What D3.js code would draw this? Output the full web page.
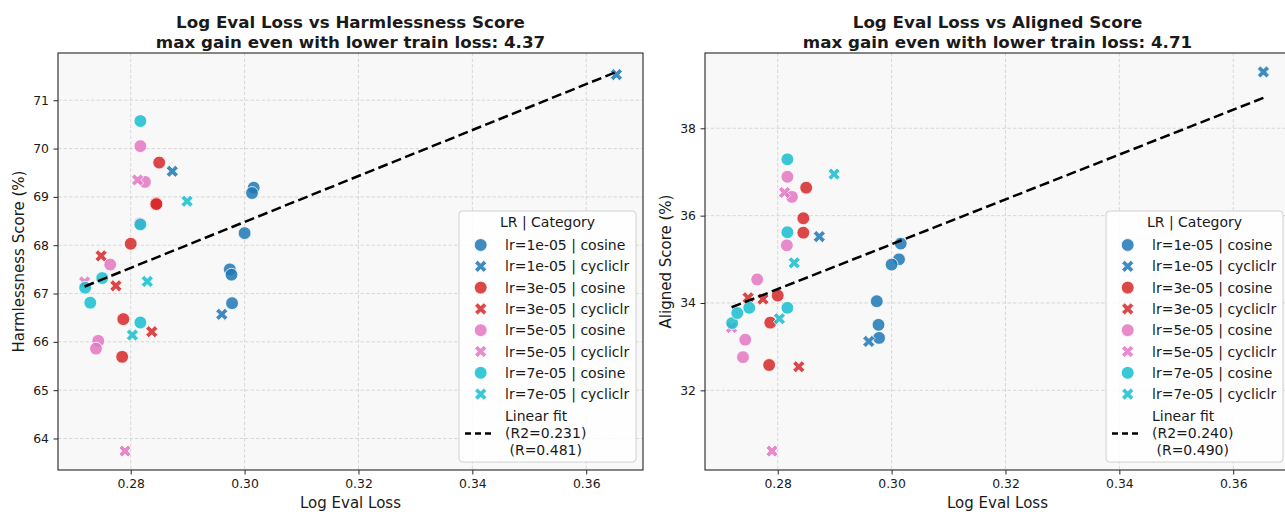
<!DOCTYPE html>
<html>
<head>
<meta charset="utf-8">
<script src="https://cdn.jsdelivr.net/npm/d3@7/dist/d3.min.js"></script>
<style>
  body { margin: 0; background: #ffffff; }
  svg text { font-family: "DejaVu Sans", sans-serif; fill: #1a1a1a; }
</style>
</head>
<body>
<svg id="chart" width="1285" height="512"></svg>
<script>
// ---- data: one entry per training run ----
const runLr = [
  "1e-05","1e-05","1e-05","1e-05","1e-05","1e-05",
  "1e-05","1e-05","1e-05",
  "3e-05","3e-05","3e-05","3e-05","3e-05","3e-05",
  "3e-05","3e-05","3e-05",
  "5e-05","5e-05","5e-05","5e-05","5e-05","5e-05",
  "5e-05","5e-05","5e-05",
  "7e-05","7e-05","7e-05","7e-05","7e-05","7e-05",
  "7e-05","7e-05","7e-05"
];
const runScheduler = [
  "cosine","cosine","cosine","cosine","cosine","cosine",
  "cycliclr","cycliclr","cycliclr",
  "cosine","cosine","cosine","cosine","cosine","cosine",
  "cycliclr","cycliclr","cycliclr",
  "cosine","cosine","cosine","cosine","cosine","cosine",
  "cycliclr","cycliclr","cycliclr",
  "cosine","cosine","cosine","cosine","cosine","cosine",
  "cycliclr","cycliclr","cycliclr"
];
const logEvalLoss = [
  0.3016, 0.3013, 0.3000, 0.2974, 0.2977, 0.2978,
  0.2873, 0.2960, 0.3653,
  0.2850, 0.2845, 0.2845, 0.2800, 0.2787, 0.2785,
  0.2748, 0.2774, 0.2837,
  0.2817, 0.2825, 0.2816, 0.2764, 0.2743, 0.2739,
  0.2812, 0.2719, 0.2790,
  0.2817, 0.2817, 0.2817, 0.2750, 0.2720, 0.2729,
  0.2899, 0.2829, 0.2803
];
const harmlessnessScore = [
  69.19, 69.08, 68.25, 67.50, 67.39, 66.80,
  69.53, 66.57, 71.53,
  69.71, 68.87, 68.85, 68.03, 66.47, 65.69,
  67.78, 67.16, 66.21,
  70.05, 69.31, 68.45, 67.60, 66.02, 65.86,
  69.35, 67.24, 63.74,
  70.57, 68.43, 66.40, 67.32, 67.12, 66.81,
  68.91, 67.25, 66.14
];
const alignedScore = [
  35.36, 35.00, 34.88, 34.04, 33.50, 33.20,
  35.52, 33.12, 39.29,
  36.64, 35.94, 35.61, 34.17, 33.55, 32.58,
  34.12, 34.09, 32.54,
  36.89, 36.43, 35.32, 34.54, 33.16, 32.76,
  36.53, 33.44, 30.61,
  37.29, 35.62, 33.89, 33.89, 33.54, 33.77,
  36.95, 34.92, 33.64
];

// legend categories and palette
const learningRates = ["1e-05", "3e-05", "5e-05", "7e-05"];
const schedulers = ["cosine", "cycliclr"];
const lrColors = ["#1f77b4", "#d62728", "#e377c2", "#17becf"];

// tick values
const lossTicks = [0.28, 0.30, 0.32, 0.34, 0.36];
const harmlessTicks = [64, 65, 66, 67, 68, 69, 70, 71];
const alignedTicks = [32, 34, 36, 38];

// fit statistics printed in titles / legends
const panelTitles = ["Log Eval Loss vs Harmlessness Score", "Log Eval Loss vs Aligned Score"];
const panelYLabels = ["Harmlessness Score (%)", "Aligned Score (%)"];
const maxGain = ["4.37", "4.71"];
const fitR2 = ["0.231", "0.240"];
const fitR = ["0.481", "0.490"];

// ---- drawing ----
const svg = d3.select("#chart");
const plotTop = 53, plotBottom = 470;
const panelLeft = [58, 705];
const panelWidth = 585;
const markerSize = 12.8;

const color = d3.scaleOrdinal().domain(learningRates).range(lrColors);

function xMarkerPath(s) {
  const k = s / 4;
  const pts = [[-1,-2],[0,-1],[1,-2],[2,-1],[1,0],[2,1],[1,2],[0,1],[-1,2],[-2,1],[-1,0],[-2,-1]];
  return "M" + pts.map(([a, b]) => `${a * k},${b * k}`).join("L") + "Z";
}

function drawMarker(sel, scheduler, fill) {
  if (scheduler === "cosine") {
    sel.append("circle").attr("r", markerSize / 2);
  } else {
    sel.append("path").attr("d", xMarkerPath(markerSize * 0.95));
  }
  sel.selectAll("circle,path")
    .attr("fill", fill)
    .attr("fill-opacity", 0.85)
    .attr("stroke", "#ffffff")
    .attr("stroke-width", 0.8);
}

// 5% autoscale margin on each side
function padded(ext) {
  const m = (ext[1] - ext[0]) * 0.05;
  return [ext[0] - m, ext[1] + m];
}

function linearFit(xs, ys) {
  const mx = d3.mean(xs), my = d3.mean(ys);
  let sxy = 0, sxx = 0;
  xs.forEach((xv, i) => { sxy += (xv - mx) * (ys[i] - my); sxx += (xv - mx) ** 2; });
  const slope = sxy / sxx;
  return { slope, intercept: my - slope * mx };
}

const panelValues = [harmlessnessScore, alignedScore];
const panelTicks = [harmlessTicks, alignedTicks];

panelValues.forEach((values, pi) => {
  const left = panelLeft[pi], right = left + panelWidth;
  const g = svg.append("g");

  // least-squares fit across all runs
  const fit = linearFit(logEvalLoss, values);
  const [xmin, xmax] = d3.extent(logEvalLoss);
  const fitY = [fit.intercept + fit.slope * xmin, fit.intercept + fit.slope * xmax];

  const x = d3.scaleLinear().domain(padded([xmin, xmax])).range([left, right]);
  const y = d3.scaleLinear().domain(padded(d3.extent(values.concat(fitY))))
    .range([plotBottom, plotTop]);

  // plotting area background
  g.append("rect")
    .attr("x", left).attr("y", plotTop)
    .attr("width", right - left).attr("height", plotBottom - plotTop)
    .attr("fill", "#f8f8f8");

  // dashed grid
  const grid = g.append("g").attr("stroke", "#d4d4d4").attr("stroke-width", 0.9)
    .attr("stroke-dasharray", "3.5,2");
  grid.selectAll("line.gx").data(lossTicks).join("line")
    .attr("x1", d => x(d)).attr("x2", d => x(d))
    .attr("y1", plotTop).attr("y2", plotBottom);
  grid.selectAll("line.gy").data(panelTicks[pi]).join("line")
    .attr("x1", left).attr("x2", right)
    .attr("y1", d => y(d)).attr("y2", d => y(d));

  // scatter points, grouped by learning rate and scheduler
  const pts = g.append("g");
  learningRates.forEach(lr => {
    schedulers.forEach(sch => {
      logEvalLoss.forEach((lv, i) => {
        if (runLr[i] !== lr || runScheduler[i] !== sch) return;
        const m = pts.append("g").attr("transform", `translate(${x(lv)},${y(values[i])})`);
        drawMarker(m, sch, color(lr));
      });
    });
  });

  // fit line
  g.append("line")
    .attr("x1", x(xmin)).attr("y1", y(fitY[0]))
    .attr("x2", x(xmax)).attr("y2", y(fitY[1]))
    .attr("stroke", "#000").attr("stroke-width", 2.5)
    .attr("stroke-dasharray", "10,4.4");

  // frame
  g.append("rect")
    .attr("x", left).attr("y", plotTop)
    .attr("width", right - left).attr("height", plotBottom - plotTop)
    .attr("fill", "none").attr("stroke", "#262626").attr("stroke-width", 1.1);

  // axes
  const xAxis = g.append("g").attr("transform", `translate(0,${plotBottom})`)
    .call(d3.axisBottom(x).tickValues(lossTicks).tickFormat(d3.format(".2f"))
      .tickSize(4.5).tickPadding(5));
  const yAxis = g.append("g").attr("transform", `translate(${left},0)`)
    .call(d3.axisLeft(y).tickValues(panelTicks[pi]).tickFormat(d3.format("d"))
      .tickSize(4.5).tickPadding(4.5));
  [xAxis, yAxis].forEach(a => {
    a.select(".domain").remove();
    a.selectAll(".tick line").attr("stroke", "#262626").attr("stroke-width", 1);
    a.selectAll(".tick text").attr("font-size", 12.4).attr("fill", "#1a1a1a")
      .style("font-family", "DejaVu Sans, sans-serif");
  });

  // axis labels
  const cx = (left + right) / 2;
  g.append("text").attr("x", cx).attr("y", 508).attr("text-anchor", "middle")
    .attr("font-size", 15).text("Log Eval Loss");
  g.append("text")
    .attr("transform", `translate(${left - 39},${(plotTop + plotBottom) / 2}) rotate(-90)`)
    .attr("text-anchor", "middle").attr("dominant-baseline", "central")
    .attr("font-size", 15).text(panelYLabels[pi]);

  // title
  g.append("text").attr("x", cx).attr("y", 28).attr("text-anchor", "middle")
    .attr("font-size", 16.7).attr("font-weight", "bold").text(panelTitles[pi]);
  g.append("text").attr("x", cx).attr("y", 47.5).attr("text-anchor", "middle")
    .attr("font-size", 16.7).attr("font-weight", "bold")
    .text(`max gain even with lower train loss: ${maxGain[pi]}`);

  // legend
  const lw = 177, lh = 251;
  const lx = right - 7 - lw, ly = 211;
  const lg = g.append("g").attr("transform", `translate(${lx},${ly})`);
  lg.append("rect").attr("width", lw).attr("height", lh).attr("rx", 3.5)
    .attr("fill", "#ffffff").attr("fill-opacity", 0.85)
    .attr("stroke", "#d0d0d0").attr("stroke-width", 1);
  lg.append("text").attr("x", lw / 2).attr("y", 11).attr("text-anchor", "middle")
    .attr("dominant-baseline", "central").attr("font-size", 14).text("LR | Category");
  let row = 0;
  learningRates.forEach(lr => {
    schedulers.forEach(sch => {
      const yy = 34 + row * 21.3;
      const m = lg.append("g").attr("transform", `translate(21.7,${yy})`);
      drawMarker(m, sch, color(lr));
      lg.append("text").attr("x", 46).attr("y", yy).attr("dominant-baseline", "central")
        .attr("font-size", 14).text(`lr=${lr} | ${sch}`);
      row++;
    });
  });
  const fitLines = ["Linear fit", `(R2=${fitR2[pi]})`, ` (R=${fitR[pi]})`];
  fitLines.forEach((t, k) => {
    lg.append("text").attr("x", 46).attr("y", 205 + k * 17).attr("dominant-baseline", "central")
      .attr("font-size", 14).attr("xml:space", "preserve").style("white-space", "pre").text(t);
  });
  lg.append("line").attr("x1", 6).attr("x2", 34).attr("y1", 222.5).attr("y2", 222.5)
    .attr("stroke", "#000").attr("stroke-width", 2.5).attr("stroke-dasharray", "6,4");
});
</script>
</body>
</html>
